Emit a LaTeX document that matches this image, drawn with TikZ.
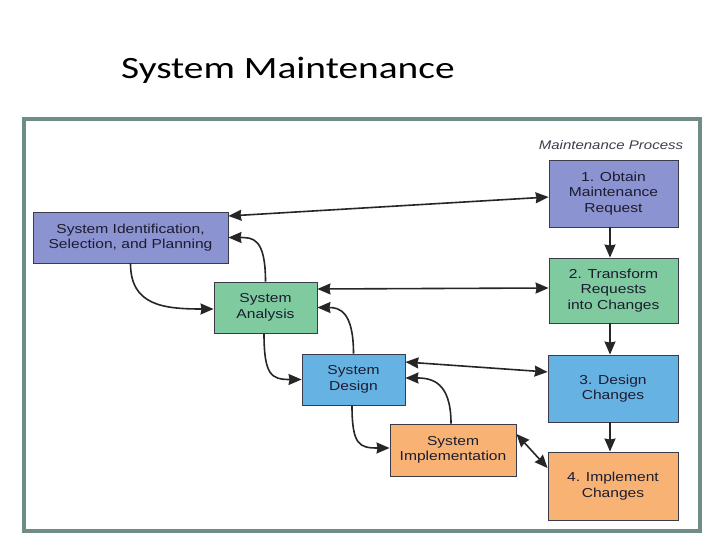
\documentclass[tikz,border=0pt]{standalone}
\usepackage{fontspec}
\newfontfamily\boxfont[FakeStretch=1.2]{Liberation Sans}
\newfontfamily\titlefont[FakeStretch=1.27]{Carlito}
\usetikzlibrary{arrows.meta}
\definecolor{framec}{HTML}{708C87}
\definecolor{purp}{HTML}{8B93D0}
\definecolor{grn}{HTML}{80CA9F}
\definecolor{blu}{HTML}{66B3E3}
\definecolor{org}{HTML}{F8B374}
\definecolor{edgec}{HTML}{3A3A48}
\definecolor{txt}{HTML}{1C1C30}
\definecolor{linec}{HTML}{262626}
\tikzset{
  box/.style={draw=edgec, line width=0.9pt, inner sep=0pt, align=center,
    font=\boxfont\fontsize{13}{15.5}\selectfont, text=txt},
  conn/.style={draw=linec, line width=1.6pt, -{Stealth[length=13pt,width=11pt,inset=1pt]}},
  bconn/.style={draw=linec, line width=1.6pt, {Stealth[length=13pt,width=11pt,inset=1pt]}-{Stealth[length=13pt,width=11pt,inset=1pt]}}
}
\begin{document}
\begin{tikzpicture}[x=1pt,y=-1pt]
\useasboundingbox (0,0) rectangle (720,540);
\fill[white] (0,0) rectangle (720,540);
\node[anchor=base west, font=\titlefont\fontsize{31}{36}\selectfont, inner sep=0pt] (title) at (121,79) {System Maintenance};
\draw[framec, line width=4pt] (24,119) rectangle (700,531);
\node[font=\boxfont\itshape\fontsize{12.5}{15}\selectfont, text=txt!85, inner sep=0pt] (mp) at (611,145) {Maintenance Process};

\node[box, fill=purp, minimum width=195pt, minimum height=51pt] (sisp) at (130.5,237.5) {System Identification,\\Selection, and Planning};
\node[box, fill=grn, minimum width=103pt, minimum height=51pt] (ana) at (265.5,307.5) {System\\Analysis};
\node[box, fill=blu, minimum width=103pt, minimum height=51pt] (des) at (353.5,379.5) {System\\Design};
\node[box, fill=org, minimum width=126pt, minimum height=52pt] (imp) at (453,450) {System\\Implementation};
\node[box, fill=purp, minimum width=129pt, minimum height=67pt] (ob) at (613.5,193.5) {1. Obtain\\Maintenance\\Request};
\node[box, fill=grn, minimum width=129pt, minimum height=65pt] (tr) at (613.5,290.5) {2. Transform\\Requests\\into Changes};
\node[box, fill=blu, minimum width=130pt, minimum height=67pt] (dc) at (613,388.5) {3. Design\\Changes};
\node[box, fill=org, minimum width=130pt, minimum height=68pt] (ic) at (613,486) {4. Implement\\Changes};

% straight connectors
\draw[bconn] ([yshift=21.5pt]sisp.east) -- ([yshift=-3.5pt]ob.west);
\draw[bconn] ([yshift=18.5pt]ana.east) -- ([yshift=2.5pt]tr.west);
\draw[bconn] ([yshift=17.5pt]des.east) -- ([yshift=16.5pt]dc.west);
\draw[bconn] ([yshift=16pt]imp.east) -- ([yshift=18pt]ic.west);
\draw[conn] ([xshift=-3.5pt]ob.south) -- ([xshift=-3.5pt]tr.north);
\draw[conn] ([xshift=-3.5pt]tr.south) -- ([xshift=-3pt]dc.north);
\draw[conn] ([xshift=-3pt]dc.south) -- ([xshift=-3pt]ic.north);

% curved connectors
\draw[conn] (ana.north) .. controls +(0,-44) and +(24,0) .. (sisp.east);
\draw[conn] (sisp.south) .. controls +(0,42) and +(-50,0) .. ([yshift=-1.5pt]ana.west);
\draw[conn] (des.north) .. controls +(0,-42) and +(22,0) .. (ana.east);
\draw[conn] ([xshift=-1.5pt]ana.south) .. controls +(0,42) and +(-30,0) .. (des.west);
\draw[conn] ([xshift=-2pt]imp.north) .. controls +(0,-42) and +(26,0) .. ([yshift=1.5pt]des.east);
\draw[conn] ([xshift=-1.5pt]des.south) .. controls +(0,40) and +(-30,0) .. ([yshift=2pt]imp.west);
\end{tikzpicture}
\end{document}
